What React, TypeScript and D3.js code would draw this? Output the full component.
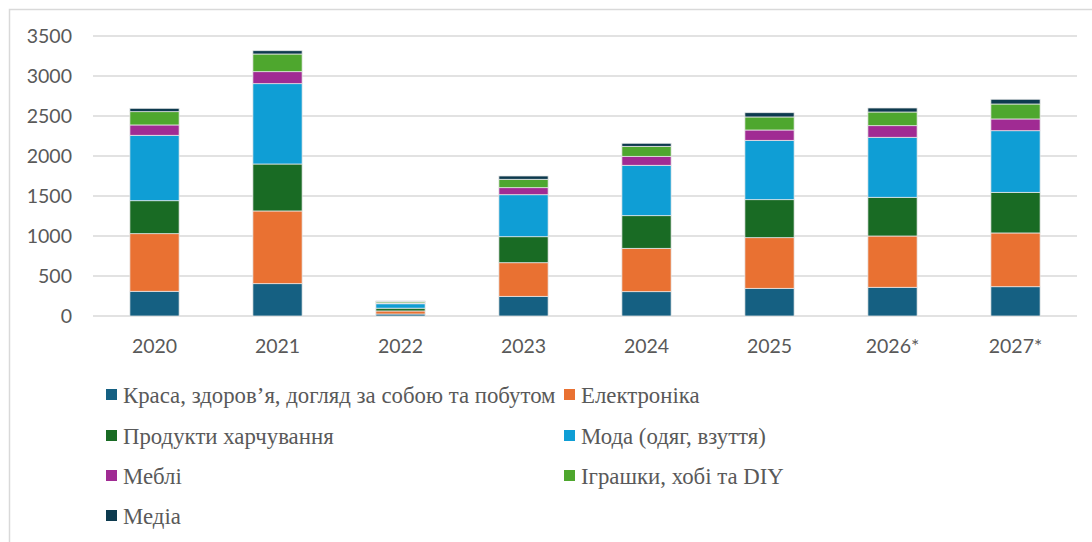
import React from "react";
import * as d3 from "d3";

const years = ["2020", "2021", "2022", "2023", "2024", "2025", "2026*", "2027*"];
const seriesNames = [
  "Краса, здоров’я, догляд за собою та побутом",
  "Електроніка",
  "Продукти харчування",
  "Мода (одяг, взуття)",
  "Меблі",
  "Іграшки, хобі та DIY",
  "Медіа",
];
const beauty = [309, 404, 25, 246, 304, 346, 359, 366];
const electronics = [720, 909, 38, 420, 542, 633, 641, 672];
const food = [412, 587, 35, 325, 408, 475, 484, 508];
const fashion = [818, 1004, 55, 525, 630, 742, 750, 770];
const furniture = [129, 150, 10, 88, 112, 129, 145, 147];
const toys = [166, 221, 15, 105, 125, 163, 171, 187];
const media = [42, 41, 10, 41, 38, 53, 50, 59];
const yTicks = [0, 500, 1000, 1500, 2000, 2500, 3000, 3500];
const colors = ["#156082", "#E97132", "#196B24", "#0F9ED5", "#A02B93", "#4EA72E", "#0D3A4E"];

const seriesValues = [beauty, electronics, food, fashion, furniture, toys, media];

export default function App() {
  const W = 1092;
  const H = 542;
  const x = d3.scaleBand<string>().domain(years).range([93, 1077]).paddingInner(0.6).paddingOuter(0.3);
  const y = d3.scaleLinear().domain([0, 3500]).range([316, 36]);

  const rows = years.map((yr, i) => {
    const r: any = { year: yr };
    seriesNames.forEach((s, j) => (r[s] = seriesValues[j][i]));
    return r;
  });
  const stacked = d3.stack<any>().keys(seriesNames)(rows);

  const legendPos = [
    { x: 106, y: 403 },
    { x: 564, y: 403 },
    { x: 106, y: 444 },
    { x: 564, y: 444 },
    { x: 106, y: 484 },
    { x: 564, y: 484 },
    { x: 106, y: 524 },
  ];

  return (
    <svg
      width={W}
      height={H}
      style={{ position: "absolute", left: 0, top: 0, background: "#fff" }}
    >
      <rect x={9.5} y={9.5} width={1200} height={700} fill="#fff" stroke="#d9d9d9" strokeWidth={1.5} />
      {yTicks.map((t) => (
        <g key={t}>
          <line x1={93} x2={1077} y1={y(t)} y2={y(t)} stroke="#d9d9d9" strokeWidth={1.5} />
          <text
            x={72}
            y={y(t)}
            dy="0.36em"
            textAnchor="end"
            fontFamily="Lato, 'Open Sans', sans-serif"
            fontSize={19.5}
            fill="#595959"
          >
            {t}
          </text>
        </g>
      ))}
      {stacked.map((layer, j) => (
        <g key={layer.key} fill={colors[j]}>
          {layer.map((d, i) => (
            <rect
              key={i}
              x={x(years[i])}
              width={x.bandwidth()}
              y={y(d[1])}
              height={Math.max(0, y(d[0]) - y(d[1]))}
              stroke="#e8e8e8"
              strokeWidth={0.75}
            />
          ))}
        </g>
      ))}
      {years.map((yr) => (
        <text
          key={yr}
          x={(x(yr) as number) + x.bandwidth() / 2}
          y={352.5}
          textAnchor="middle"
          fontFamily="Lato, 'Open Sans', sans-serif"
          fontSize={19.5}
          fill="#595959"
        >
          {yr}
        </text>
      ))}
      {seriesNames.map((s, j) => (
        <g key={s}>
          <rect x={legendPos[j].x} y={legendPos[j].y - 14} width={11} height={11} fill={colors[j]} />
          <text
            x={legendPos[j].x + 17}
            y={legendPos[j].y}
            fontFamily="'Liberation Serif', 'Times New Roman', serif"
            fontSize={22.8}
            fill="#595959"
          >
            {s}
          </text>
        </g>
      ))}
    </svg>
  );
}
